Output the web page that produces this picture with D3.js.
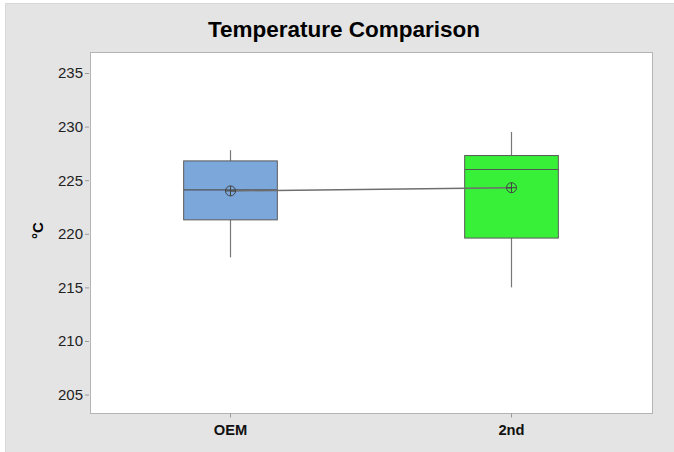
<!DOCTYPE html>
<html>
<head>
<meta charset="utf-8">
<script src="https://cdn.jsdelivr.net/npm/d3@7"></script>
<style>
  body { margin: 0; background: #fff; }
  svg { display: block; font-family: "Liberation Sans", Arial, sans-serif; }
</style>
</head>
<body>
<svg id="chart" width="674" height="452"></svg>
<script>
// chart values
var categories = ["OEM", "2nd"];
var whiskerLow = [217.8, 215.0];
var q1 = [221.3, 219.6];
var median = [224.1, 226.0];
var q3 = [226.8, 227.3];
var whiskerHigh = [227.8, 229.5];
var means = [224.0, 224.3];
var boxColors = ["#7ba7db", "#39f039"];
var yTicks = [205, 210, 215, 220, 225, 230, 235];

var svg = d3.select("#chart"),
    margin = {top: 52, right: 22, bottom: 39, left: 90},
    width = +svg.attr("width") - margin.left - margin.right,
    height = +svg.attr("height") - margin.top - margin.bottom;

// grey outer panel
svg.append("rect")
  .attr("x", 5.5).attr("y", 3.5)
  .attr("width", 674).attr("height", 452)
  .attr("fill", "#e4e4e4")
  .attr("stroke", "#d8d8d8");

svg.append("text")
  .attr("x", 344)
  .attr("y", 37)
  .attr("text-anchor", "middle")
  .style("font-size", "22.5px")
  .style("font-weight", "bold")
  .text("Temperature Comparison");

var g = svg.append("g").attr("transform", "translate(" + margin.left + "," + margin.top + ")");

var x = d3.scaleBand()
  .domain(categories)
  .range([0, width])
  .padding(0);

var y = d3.scaleLinear()
  .domain([203.28, 236.96])
  .range([height, 0]);

// plot area
g.append("rect")
  .attr("x", 0.5).attr("y", 0.5)
  .attr("width", width).attr("height", height)
  .attr("fill", "#fff")
  .attr("stroke", "#b4b4b4");

// y axis
var yAxis = g.append("g")
  .attr("transform", "translate(-1,0)")
  .call(d3.axisLeft(y).tickValues(yTicks).tickSize(4).tickPadding(2));
yAxis.select(".domain").remove();
yAxis.selectAll("line").attr("stroke", "#9a9a9a");
yAxis.selectAll("text")
  .attr("fill", "#222")
  .style("font-size", "15px")
  .style("font-family", "Liberation Sans, Arial, sans-serif");

// x axis
var xAxis = g.append("g")
  .attr("transform", "translate(0," + (height + 0.5) + ")")
  .call(d3.axisBottom(x).tickSize(4).tickPadding(7));
xAxis.select(".domain").remove();
xAxis.selectAll("line").attr("stroke", "#9a9a9a");
xAxis.selectAll("text")
  .attr("fill", "#111")
  .style("font-size", "14.7px")
  .style("font-weight", "bold")
  .style("font-family", "Liberation Sans, Arial, sans-serif");

// y axis title
svg.append("text")
  .attr("transform", "translate(43," + (margin.top + y(220.3)) + ") rotate(-90)")
  .attr("text-anchor", "middle")
  .style("font-size", "15px")
  .style("font-weight", "bold")
  .text("°C");

var boxW = x.bandwidth() / 3;
var cx = function(i) { return x(categories[i]) + x.bandwidth() / 2; };

var boxes = g.selectAll(".box")
  .data(categories)
  .enter().append("g")
  .attr("class", "box");

// whiskers
boxes.append("line")
  .attr("x1", function(d, i) { return cx(i); })
  .attr("x2", function(d, i) { return cx(i); })
  .attr("y1", function(d, i) { return y(whiskerHigh[i]); })
  .attr("y2", function(d, i) { return y(q3[i]); })
  .attr("stroke", "#777").attr("stroke-width", 1.2);
boxes.append("line")
  .attr("x1", function(d, i) { return cx(i); })
  .attr("x2", function(d, i) { return cx(i); })
  .attr("y1", function(d, i) { return y(q1[i]); })
  .attr("y2", function(d, i) { return y(whiskerLow[i]); })
  .attr("stroke", "#777").attr("stroke-width", 1.2);

boxes.append("rect")
  .attr("x", function(d, i) { return cx(i) - boxW / 2; })
  .attr("y", function(d, i) { return y(q3[i]); })
  .attr("width", boxW)
  .attr("height", function(d, i) { return y(q1[i]) - y(q3[i]); })
  .attr("fill", function(d, i) { return boxColors[i]; })
  .attr("stroke", "#5a5a5a")
  .attr("stroke-width", 1);

boxes.append("line")
  .attr("x1", function(d, i) { return cx(i) - boxW / 2; })
  .attr("x2", function(d, i) { return cx(i) + boxW / 2; })
  .attr("y1", function(d, i) { return y(median[i]); })
  .attr("y2", function(d, i) { return y(median[i]); })
  .attr("stroke", "#555").attr("stroke-width", 1.2);

// mean connect line
var meanLine = d3.line()
  .x(function(d, i) { return cx(i); })
  .y(function(d) { return y(d); });

g.append("path")
  .datum(means)
  .attr("d", meanLine)
  .attr("fill", "none")
  .attr("stroke", "#6e6e6e")
  .attr("stroke-width", 1.5);

// mean symbols (circle with cross)
var r = 5;
var sym = g.selectAll(".mean")
  .data(means)
  .enter().append("g")
  .attr("class", "mean")
  .attr("transform", function(d, i) { return "translate(" + cx(i) + "," + y(d) + ")"; });
sym.append("circle")
  .attr("r", r)
  .attr("fill", "none")
  .attr("stroke", "#444")
  .attr("stroke-width", 1);
sym.append("line")
  .attr("x1", -r).attr("x2", r)
  .attr("stroke", "#444");
sym.append("line")
  .attr("y1", -r).attr("y2", r)
  .attr("stroke", "#444");
</script>
</body>
</html>
